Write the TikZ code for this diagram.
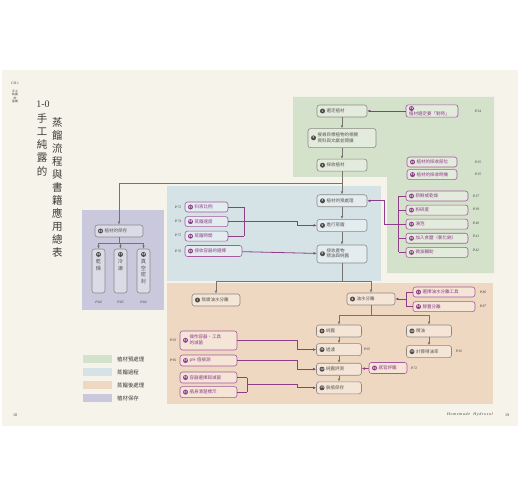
\documentclass[tikz,border=0pt]{standalone}
\usepackage{fontspec}
\setmainfont{Liberation Serif}
\newfontfamily\cjk{Noto Sans CJK TC}
\usetikzlibrary{arrows.meta,positioning,calc}

\definecolor{paper}{HTML}{F6F3EB}
\definecolor{pregreen}{HTML}{D4E1CB}
\definecolor{distblue}{HTML}{D5E3E7}
\definecolor{postorange}{HTML}{EFD8C2}
\definecolor{storepurple}{HTML}{C9C8DD}
\definecolor{boxline}{HTML}{8C8883}
\definecolor{boxtext}{HTML}{5A5754}
\definecolor{dotgray}{HTML}{4E4C4A}
\definecolor{linkgray}{HTML}{77736F}
\definecolor{plum}{HTML}{8E3D89}
\definecolor{plumline}{HTML}{A5599F}
\definecolor{inkgray}{HTML}{3E3C3A}

\tikzset{
  gdot/.style={circle, fill=dotgray, fill opacity=1, text opacity=1, text=white, inner sep=0pt, minimum size=5pt, font=\sffamily\bfseries\fontsize{3}{3}\selectfont},
  pdot/.style={gdot, fill=plum}
}
\newcommand{\gnum}[1]{\tikz[baseline={([yshift=-1.5pt]c.center)}]\node[gdot](c){#1};\hspace{1.6pt}}
\newcommand{\pnum}[1]{\tikz[baseline={([yshift=-1.5pt]c.center)}]\node[pdot](c){#1};\hspace{1.6pt}}

\begin{document}
\begin{tikzpicture}[x=1pt, y=-1pt, >={Latex[length=3pt,width=2.6pt]}]
  \tikzstyle{gbox}=[draw=boxline, line width=0.6pt, rounded corners=2.5pt, fill=white, fill opacity=0.35, text opacity=1, text=boxtext, inner xsep=3pt, inner ysep=1.2pt, minimum height=12pt, align=left, text width=#1, font=\cjk\fontsize{4.5}{5.6}\selectfont]
  \tikzstyle{pbox}=[gbox=#1, draw=plumline, text=plum, minimum height=10pt]
  \tikzstyle{vlabel}=[inner sep=0pt, align=center, text=boxtext, font=\cjk\fontsize{5.2}{6.6}\selectfont]
  \tikzstyle{glink}=[draw=linkgray, line width=0.7pt]
  \tikzstyle{plink}=[draw=plum, line width=0.8pt]
  \tikzstyle{pagelbl}=[inner sep=0pt, text=inkgray, font=\itshape\fontsize{3.6}{4}\selectfont]
  \tikzstyle{legend}=[inner sep=0pt, anchor=west, text=inkgray, font=\cjk\fontsize{5.4}{6}\selectfont]

  \useasboundingbox (0,0) rectangle (520,500);
  \fill[white] (0,0) rectangle (520,500);
  \fill[paper] (2,70) rectangle (518,426);

  % ------- stage backgrounds -------
  \fill[pregreen] (293,97) -- (494,97) -- (494,273) -- (387,273) -- (387,177) -- (293,177) -- cycle;
  \fill[distblue] (167,186) rectangle (381,281);
  \fill[postorange] (167,283) rectangle (493,404);
  \fill[storepurple] (82,210) rectangle (164,310);

  % ------- title -------
  \node[inner sep=0pt, text=inkgray, font=\fontsize{3.6}{4}\selectfont] (chap) at (15,83) {CH.1};
  \node[inner sep=0pt, align=center, text=inkgray, font=\cjk\fontsize{2.8}{3.4}\selectfont, anchor=north] (chapname) at (15,90) {手工\\純露\\的\\基礎};
  \node[inner sep=0pt, text=inkgray, font=\fontsize{10}{10}\selectfont] (tnum) at (43,104) {1-0};
  \node[inner sep=0pt, align=center, text=inkgray, font=\cjk\fontsize{10.5}{13.3}\selectfont, anchor=north] (tleft) at (42,113) {手\\工\\純\\露\\的};
  \node[inner sep=0pt, align=center, text=inkgray, font=\cjk\fontsize{10.5}{13}\selectfont, anchor=north] (tright) at (57.5,117) {蒸\\餾\\流\\程\\與\\書\\籍\\應\\用\\總\\表};

  % ------- main steps -------
  \node[gbox=44pt] (s1) at (342,111) {\gnum{1}選定植材};
  \node[gbox=62pt, minimum height=19pt, below=11pt of s1] (s2) {\gnum{2}\begin{tabular}{@{}l@{}}搜尋目標植物的相關\\資料與文獻並閱讀\end{tabular}};
  \node[gbox=44pt, below=11pt of s2] (s3) {\gnum{3}採收植材};
  \node[gbox=44pt, below=23pt of s3] (s4) {\gnum{4}植材的預處理};
  \node[gbox=44pt, below=12pt of s4] (s5) {\gnum{5}進行蒸餾};
  \node[gbox=44pt, minimum height=18pt, below=13pt of s5] (s6) {\gnum{6}\begin{tabular}{@{}l@{}}接收產物\\精油與純露\end{tabular}};

  \node[gbox=42pt] (s7) at (216,300) {\gnum{7}無需油水分離};
  \node[gbox=42pt] (s8) at (371,299) {\gnum{8}油水分離};
  \node[gbox=39pt] (s9) at (339,331) {\gnum{9}純露};
  \node[gbox=39pt, below=6pt of s9] (s11) {\gnum{11}過濾};
  \node[gbox=39pt, below=7pt of s11] (s12) {\gnum{12}純露評測};
  \node[gbox=39pt, below=6pt of s12] (s13) {\gnum{13}裝瓶保存};
  \node[gbox=39pt] (s10) at (429,331) {\gnum{10}精油};
  \node[gbox=39pt, below=8pt of s10] (s14) {\gnum{14}計算得油率};

  % storage
  \node[gbox=42pt] (s15) at (119,231) {\gnum{15}植材的保存};
  \node[gbox=7pt, minimum height=44pt] (s16) at (98.5,271) {};
  \node[gbox=7pt, minimum height=44pt] (s17) at (120.5,271) {};
  \node[gbox=7pt, minimum height=44pt] (s18) at (143.5,271) {};
  \node[vlabel, below=3pt of s16.north] (t16) {\gnum{16}\\[1pt]乾\\燥};
  \node[vlabel, below=3pt of s17.north] (t17) {\gnum{17}\\[1pt]冷\\凍};
  \node[vlabel, below=3pt of s18.north] (t18) {\gnum{18}\\[1pt]真\\空\\密\\封};

  % ------- book topics -------
  \node[pbox=46pt, minimum height=11pt] (p19) at (432,111) {\pnum{19}植材選定要「對時」};
  \node[pbox=44pt] (p20) at (432,162) {\pnum{20}植材的採收部位};
  \node[pbox=44pt, below=2pt of p20] (p21) {\pnum{21}植材的採收時機};

  \node[pbox=56pt] (p22) at (437,196) {\pnum{22}新鮮或乾燥};
  \node[pbox=56pt, below=3.5pt of p22] (p23) {\pnum{23}粉碎度};
  \node[pbox=56pt, below=3.5pt of p23] (p24) {\pnum{24}浸泡};
  \node[pbox=56pt, below=3.5pt of p24] (p25) {\pnum{25}加入食鹽（氯化鈉）};
  \node[pbox=56pt, below=3.5pt of p25] (p26) {\pnum{26}微波輔助};

  \node[pbox=37pt] (p27) at (206.5,207) {\pnum{27}料液比例};
  \node[pbox=37pt, below=4pt of p27] (p28) {\pnum{28}蒸餾速度};
  \node[pbox=37pt, below=4pt of p28] (p29) {\pnum{29}蒸餾時間};
  \node[pbox=51pt, minimum height=11pt] (p30) at (213.5,251) {\pnum{30}接收容器的選擇};

  \node[pbox=56pt] (p31) at (444,292) {\pnum{31}選擇油水分離工具};
  \node[pbox=56pt, below=4pt of p31] (p32) {\pnum{32}靜置分離};

  \node[pbox=51pt, minimum height=19pt] (p33) at (208.5,340.5) {\pnum{33}\begin{tabular}{@{}l@{}}操作容器、工具\\的滅菌\end{tabular}};
  \node[pbox=51pt, minimum height=11pt] (p34) at (208.5,360.5) {\pnum{34}pH 值檢測};
  \node[pbox=32pt, minimum height=11pt] (p35) at (388,368) {\pnum{35}感官評鑑};
  \node[pbox=51pt, minimum height=11pt] (p36) at (208.5,377.5) {\pnum{36}容器選擇與滅菌};
  \node[pbox=51pt, minimum height=11pt, below=3pt of p36] (p37) {\pnum{37}瓶身清楚標示};

  % page refs
  \node[pagelbl] (r19) at (478,111) {P.34};
  \node[pagelbl] (r20) at (478,162) {P.35};
  \node[pagelbl] (r21) at (478,174) {P.35};
  \node[pagelbl] (r22) at (476,196) {P.37};
  \node[pagelbl] (r23) at (476,209.5) {P.39};
  \node[pagelbl] (r24) at (476,223) {P.40};
  \node[pagelbl] (r25) at (476,236.5) {P.41};
  \node[pagelbl] (r26) at (476,250) {P.42};
  \node[pagelbl] (r27) at (178,207) {P.72};
  \node[pagelbl] (r28) at (178,221) {P.74};
  \node[pagelbl] (r29) at (178,235) {P.75};
  \node[pagelbl] (r30) at (178,251) {P.76};
  \node[pagelbl] (r16) at (98.5,302) {P.64};
  \node[pagelbl] (r17) at (120.5,302) {P.65};
  \node[pagelbl] (r18) at (143.5,302) {P.64};
  \node[pagelbl] (r31) at (483,292) {P.86};
  \node[pagelbl] (r32) at (483,306) {P.87};
  \node[pagelbl] (r33) at (173,340.5) {P.93};
  \node[pagelbl] (r34) at (173,360.5) {P.96};
  \node[pagelbl] (r11) at (367,349) {P.95};
  \node[pagelbl] (r35) at (414,368) {P.72};
  \node[pagelbl] (r14) at (459,351) {P.92};

  % ------- arrows -------
  \draw[glink,->] (s1) -- (s2);
  \draw[glink,->] (s2) -- (s3);
  \draw[glink,->] (s3) -- (s4);
  \coordinate (j1) at ([yshift=-12pt]s3.south);
  \draw[glink,->] (j1) -| (s15);
  \draw[glink,->] (s4) -- (s5);
  \draw[glink,->] (s5) -- (s6);
  \coordinate (j2) at ([yshift=-18pt]s6.south);
  \draw[glink] (s6) -- (j2);
  \draw[glink,->] (j2) -| (s7);
  \draw[glink,->] (j2) -| (s8);
  \coordinate (j3) at ([yshift=-10pt]s8.south);
  \draw[glink] (s8) -- (j3);
  \draw[glink,->] (j3) -| (s9);
  \draw[glink,->] (j3) -| (s10);
  \draw[glink,->] (s9) -- (s11);
  \draw[glink,->] (s11) -- (s12);
  \draw[glink,->] (s12) -- (s13);
  \draw[glink,->] (s10) -- (s14);
  \coordinate (j4) at ([yshift=-6pt]s15.south);
  \draw[glink] (s15) -- (j4);
  \foreach \n in {16,17,18}
    \draw[glink,->] (j4) -| (s\n);

  % topic links into the steps
  \draw[plink,->] (p19) -- (s1);

  \coordinate (b1) at ([xshift=-7pt]p22.west);
  \foreach \n in {22,...,26}
    \draw[plink] (p\n.west) -- (p\n.west -| b1);
  \draw[plink] (b1) -- (p26.west -| b1);
  \draw[plink,->] (p24.west -| b1) -- ++(-14,0) |- (s4);

  \coordinate (b2) at ([xshift=16pt]p27.east);
  \foreach \n in {27,28,29}
    \draw[plink] (p\n.east) -- (p\n.east -| b2);
  \draw[plink] (b2) -- (p29.east -| b2);
  \draw[plink,->] (p28.east -| b2) -- ++(53,0) |- (s5);
  \draw[plink,->] (p30) -- (s6);

  \coordinate (b3) at ([xshift=-6pt]p31.west);
  \foreach \n in {31,32}
    \draw[plink] (p\n.west) -- (p\n.west -| b3);
  \draw[plink] (b3) -- (p32.west -| b3);
  \draw[plink,->] (b3 |- s8) -- (s8);

  \draw[plink,->] (p33.east) -- ++(60,0) |- (s11);
  \draw[plink,->] (p34.east) -- ++(60,0) |- (s12);
  \coordinate (b4) at ([xshift=10pt]p36.east);
  \foreach \n in {36,37}
    \draw[plink] (p\n.east) -- (p\n.east -| b4);
  \draw[plink] (b4) -- (p37.east -| b4);
  \draw[plink,->] ($(b4)!0.5!(p37.east -| b4)$) -- ++(50,0) |- (s13);
  \draw[plink,->] (p35) -- (s12);

  % ------- legend -------
  \fill[pregreen] (83,355) rectangle (112,363);
  \fill[distblue] (83,368) rectangle (112,376);
  \fill[postorange] (83,381) rectangle (112,389);
  \fill[storepurple] (83,394) rectangle (112,402);
  \node[legend] (lg1) at (117,359) {植材預處理};
  \node[legend] (lg2) at (117,372) {蒸餾過程};
  \node[legend] (lg3) at (117,385) {蒸餾後處理};
  \node[legend] (lg4) at (117,398) {植材保存};

  % footer
  \node[inner sep=0pt, text=inkgray, font=\fontsize{4}{4}\selectfont] (pg18) at (15,415) {18};
  \node[inner sep=0pt, text=inkgray, font=\fontsize{4}{4}\selectfont] (pg19) at (507,415) {19};
  \node[inner sep=0pt, text=inkgray, font=\itshape\fontsize{4}{4}\selectfont] (runhead) at (470,415) {H\,o\,m\,e\,m\,a\,d\,e\;\; H\,y\,d\,r\,o\,s\,o\,l};
\end{tikzpicture}
\end{document}
